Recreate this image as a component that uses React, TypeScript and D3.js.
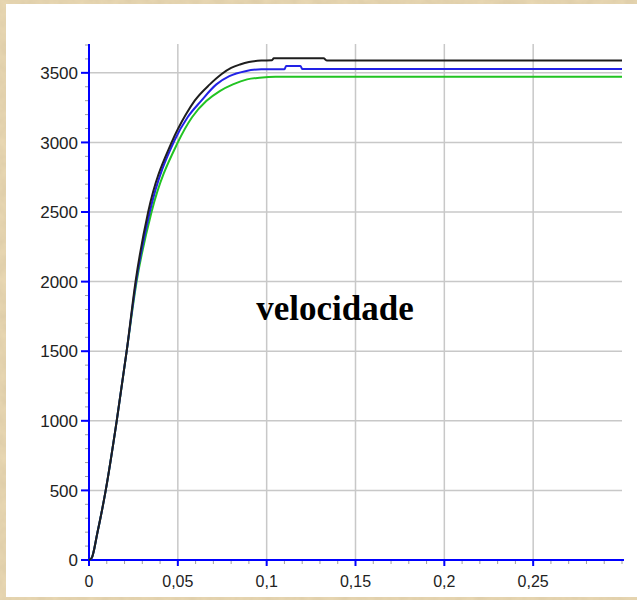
import React from "react";
import * as d3 from "d3";

// tempo (s) e velocidade (rpm)
const tempoPreto = [0, 0.0015, 0.0047, 0.0094, 0.0156, 0.0212, 0.0262, 0.0333, 0.0465, 0.0545, 0.0595, 0.068, 0.0745, 0.08, 0.085, 0.09, 0.097, 0.103, 0.104, 0.132, 0.134, 0.3];
const velPreto = [0, 14, 194, 500, 1000, 1500, 2000, 2500, 3000, 3200, 3300, 3417, 3490, 3535, 3560, 3578, 3588, 3590, 3604, 3604, 3588, 3588];

const tempoAzul = [0, 0.0015, 0.0047, 0.0094, 0.0156, 0.0212, 0.0265, 0.0342, 0.0483, 0.0555, 0.063, 0.0717, 0.079, 0.088, 0.097, 0.11, 0.111, 0.119, 0.12, 0.3];
const velAzul = [0, 14, 194, 500, 1000, 1500, 2000, 2500, 3019, 3181, 3297, 3417, 3476, 3512, 3525, 3525, 3550, 3550, 3528, 3528];

const tempoVerde = [0, 0.0015, 0.0047, 0.0094, 0.0156, 0.0212, 0.0268, 0.0352, 0.05, 0.058, 0.066, 0.0736, 0.081, 0.089, 0.096, 0.105, 0.3];
const velVerde = [0, 14, 194, 500, 1000, 1500, 2000, 2500, 3000, 3181, 3297, 3369, 3417, 3453, 3465, 3472, 3472];

const ticksX = [0, 0.05, 0.1, 0.15, 0.2, 0.25];
const ticksY = [0, 500, 1000, 1500, 2000, 2500, 3000, 3500];

const series = [
  { t: tempoVerde, v: velVerde, cor: "#22c422" },
  { t: tempoAzul, v: velAzul, cor: "#2222e6" },
  { t: tempoPreto, v: velPreto, cor: "#1e1e1e" }
];

const fmt = (d: number) => String(d).replace(".", ",");

export default function App() {
  const x = d3.scaleLinear().domain([0, 0.3]).range([89, 622]);
  const y = d3.scaleLinear().domain([0, 3700]).range([560, 45]);

  const line = d3
    .line<[number, number]>()
    .x(d => x(d[0]))
    .y(d => y(d[1]))
    .curve(d3.curveMonotoneX);

  const minorX = d3.range(0, 0.3001, 0.01);
  const minorY = d3.range(0, 3701, 100);

  return (
    <svg
      width={637}
      height={600}
      style={{ position: "absolute", left: 0, top: 0, display: "block" }}
    >
      <defs>
        <filter id="papel">
          <feTurbulence type="fractalNoise" baseFrequency="0.08" numOctaves="3" seed="4" />
          <feColorMatrix
            type="matrix"
            values="0 0 0 0 0.55  0 0 0 0 0.45  0 0 0 0 0.28  0 0 0 0.35 0"
          />
          <feComposite in2="SourceGraphic" operator="in" />
        </filter>
      </defs>
      <rect x={0} y={0} width={637} height={600} fill="#ead9b4" />
      <rect x={0} y={0} width={637} height={600} fill="#ead9b4" filter="url(#papel)" />
      <rect x={6} y={4} width={631} height={593} fill="#ffffff" />

      {/* grade */}
      {ticksX.filter(d => d > 0).map(d => (
        <line key={"gx" + d} x1={x(d)} x2={x(d)} y1={44} y2={560} stroke="#c8c8c8" strokeWidth={1.5} />
      ))}
      {ticksY.filter(d => d > 0).map(d => (
        <line key={"gy" + d} x1={89} x2={622} y1={y(d)} y2={y(d)} stroke="#c8c8c8" strokeWidth={1.5} />
      ))}

      {/* marcas menores */}
      {minorX.map(d => (
        <line key={"mx" + d} x1={x(d)} x2={x(d)} y1={560} y2={564} stroke="#a0a0a0" />
      ))}
      {minorY.map(d => (
        <line key={"my" + d} x1={85} x2={89} y1={y(d)} y2={y(d)} stroke="#a0a0a0" />
      ))}

      {/* eixos */}
      <line x1={89} x2={89} y1={44} y2={561} stroke="#0000ff" strokeWidth={2} />
      <line x1={88} x2={624} y1={560} y2={560} stroke="#0000ff" strokeWidth={2} />
      {ticksX.map(d => (
        <g key={"tx" + d}>
          <line x1={x(d)} x2={x(d)} y1={560} y2={566} stroke="#0000ff" strokeWidth={2} />
          <text
            x={x(d)}
            y={587}
            textAnchor="middle"
            fontFamily="Liberation Sans, Arial, sans-serif"
            fontSize={16}
            fill="#222"
          >
            {fmt(d)}
          </text>
        </g>
      ))}
      {ticksY.map(d => (
        <g key={"ty" + d}>
          <line x1={81} x2={89} y1={y(d)} y2={y(d)} stroke="#0000ff" strokeWidth={2} />
          <text
            x={78}
            y={y(d)}
            dy="0.36em"
            textAnchor="end"
            fontFamily="Liberation Sans, Arial, sans-serif"
            fontSize={17}
            fill="#222"
          >
            {d}
          </text>
        </g>
      ))}

      {/* curvas */}
      {series.map((s, i) => (
        <path
          key={i}
          d={line(s.t.map((t, j) => [t, s.v[j]] as [number, number])) || ""}
          fill="none"
          stroke={s.cor}
          strokeWidth={2}
        />
      ))}

      <text
        x={335}
        y={320}
        textAnchor="middle"
        fontFamily="Liberation Serif, Times New Roman, serif"
        fontWeight="bold"
        fontSize={35}
        fill="#000"
      >
        velocidade
      </text>
    </svg>
  );
}
